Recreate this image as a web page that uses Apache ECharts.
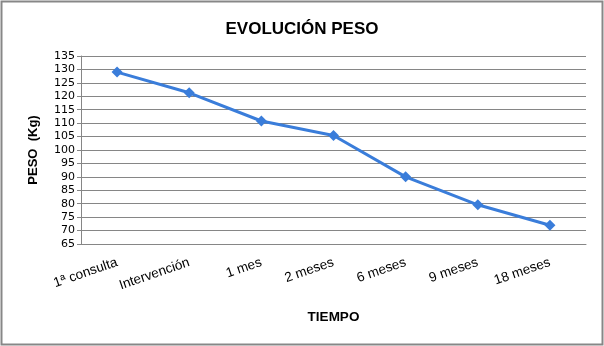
<!DOCTYPE html>
<html><head><meta charset="utf-8">
<script src="https://cdn.jsdelivr.net/npm/echarts@6/dist/echarts.min.js"></script>
<style>html,body{margin:0;padding:0;background:#fff}#c{width:604px;height:346px;box-sizing:border-box;}</style>
</head><body><div id="c"></div>
<script>
const categories = ['1ª consulta','Intervención','1 mes','2 meses','6 meses','9 meses','18 meses'];
const peso = [129, 121.3, 110.8, 105.4, 90, 79.6, 72];
const yTicks = {min: 65, max: 135, interval: 5};
const chart = echarts.init(document.getElementById('c'));
chart.setOption({
  animation: false,
  backgroundColor: '#fff',
  graphic: [{type:'rect', shape:{x:1.5,y:1.5,width:601,height:343}, style:{fill:'none', stroke:'#878787', lineWidth:2}}],
  title: {text:'EVOLUCIÓN PESO', left:'center', top:16, textStyle:{fontFamily:'Liberation Sans', fontWeight:'bold', fontSize:17, color:'#000'}},
  grid: {left:81, right:18, top:56, bottom:102},
  xAxis: {type:'category', data:categories, boundaryGap:true,
    name:'TIEMPO', nameLocation:'middle', nameGap:66,
    nameTextStyle:{fontFamily:'Liberation Sans', fontWeight:'bold', fontSize:13.5, color:'#000'},
    axisLine:{lineStyle:{color:'#868686', width:1}}, axisTick:{show:false},
    axisLabel:{rotate:19, margin:18, fontFamily:'Liberation Sans', fontSize:13.5, color:'#000'}},
  yAxis: {type:'value', min:yTicks.min, max:yTicks.max, interval:yTicks.interval,
    name:'PESO  (Kg)', nameLocation:'middle', nameGap:41, nameRotate:90,
    nameTextStyle:{fontFamily:'Liberation Sans', fontWeight:'bold', fontSize:13, color:'#000'},
    axisLine:{show:true, lineStyle:{color:'#868686'}}, axisTick:{show:true, length:4, lineStyle:{color:'#868686'}},
    splitLine:{lineStyle:{color:'#868686'}},
    axisLabel:{margin:6, fontFamily:'DejaVu Sans', fontSize:11, color:'#000'}},
  series: [{type:'line', data:peso, symbol:'diamond', symbolSize:11,
    lineStyle:{color:'#3A7DDA', width:3}, itemStyle:{color:'#3A7DDA'}}]
});
</script></body></html>
